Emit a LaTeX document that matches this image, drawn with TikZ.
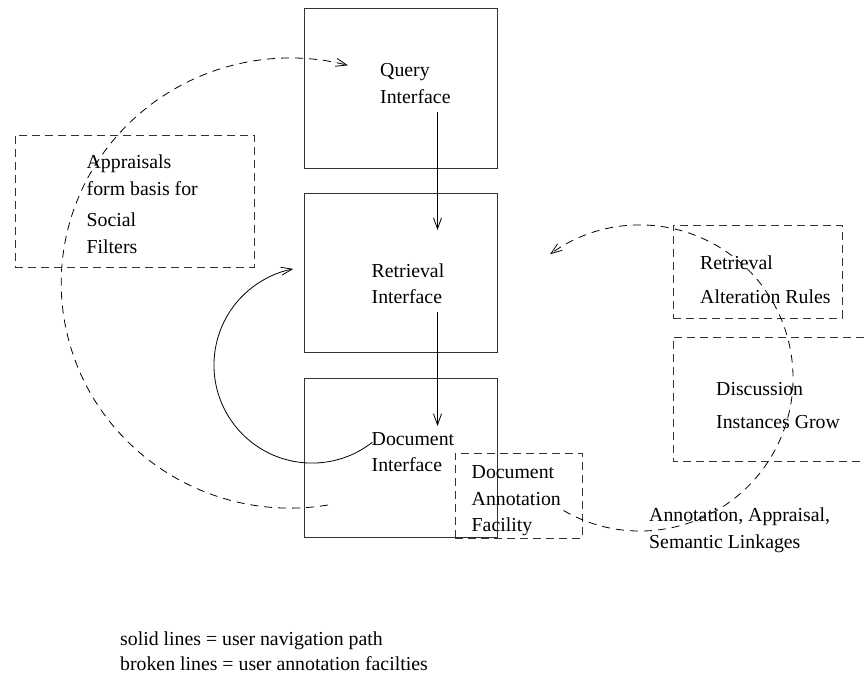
\documentclass[tikz,border=0pt]{standalone}
\usepackage{fontspec}
\setmainfont{Liberation Serif}
\usetikzlibrary{arrows.meta}
\begin{document}
\begin{tikzpicture}[x=1pt,y=-1pt,
  box/.style={draw=black!80,line width=1pt,inner sep=0pt,rectangle},
  dbox/.style={draw=black!80,line width=1pt,dash pattern=on 8pt off 5pt,inner sep=0pt,rectangle},
  lbl/.style={anchor=base west,inner sep=0pt,font=\fontsize{19.8}{25}\selectfont},
  nav/.style={line width=0.8pt,-{Straight Barb[length=11pt,width=8pt]}},
  ann/.style={nav,dash pattern=on 8pt off 6pt}]
\useasboundingbox (0,0) rectangle (864,685);

% solid boxes
\node[box,minimum width=193pt,minimum height=159pt] (query) at (400.5,88.5) {};
\node[box,minimum width=193pt,minimum height=159pt] (retr) at (400.5,272.5) {};
\node[box,minimum width=193pt,minimum height=159pt] (doc) at (400.5,457.5) {};

% dashed boxes
\node[dbox,minimum width=239pt,minimum height=132pt] (appr) at (134.5,201) {};
\node[dbox,minimum width=169pt,minimum height=93pt] (rar) at (757.5,271.5) {};
\node[dbox,minimum width=127pt,minimum height=85pt] (daf) at (518.5,495.5) {};
\coordinate (disTR) at (864,337);
\coordinate (disTL) at (673,337);
\coordinate (disBL) at (673,461);
\coordinate (disBR) at (864,461);
\draw[draw=black!80,line width=1pt,dash pattern=on 8pt off 5pt] (disTR) -- (disTL) -- (disBL) -- (disBR);

% texts
\node[lbl] (tq1) at (380,77) {Query};
\node[lbl] (tq2) at (380,103) {Interface};
\node[lbl] (tr1) at (371.5,277) {Retrieval};
\node[lbl] (tr2) at (371.5,303) {Interface};
\node[lbl] (td1) at (371.5,445) {Document};
\node[lbl] (td2) at (371.5,471.5) {Interface};
\node[lbl] (ta1) at (471.5,478) {Document};
\node[lbl] (ta2) at (471.5,505) {Annotation};
\node[lbl] (ta3) at (471.5,531.5) {Facility};
\node[lbl] (tp1) at (86.5,168) {Appraisals};
\node[lbl] (tp2) at (86.5,195) {form basis for};
\node[lbl] (tp3) at (86.5,226.5) {Social};
\node[lbl] (tp4) at (86.5,253) {Filters};
\node[lbl] (tx1) at (700,269) {Retrieval};
\node[lbl] (tx2) at (700,303) {Alteration Rules};
\node[lbl] (tg1) at (716,395) {Discussion};
\node[lbl] (tg2) at (716,428) {Instances Grow};
\node[lbl] (tl1) at (649,521.5) {Annotation, Appraisal,};
\node[lbl] (tl2) at (649,548) {Semantic Linkages};
\node[lbl] (lg1) at (120,645) {solid lines = user navigation path};
\node[lbl] (lg2) at (120,670.5) {broken lines = user annotation facilties};

% solid navigation arrows
\coordinate (q1) at (437.5,112);
\coordinate (r1) at (437.5,230);
\draw[nav] (q1) -- (r1);
\coordinate (r2) at (437.5,312);
\coordinate (d2) at (437.5,426);
\draw[nav] (r2) -- (d2);
\coordinate (ds) at (372.3,442.3);
\draw[nav] (ds) arc[start angle=52,end angle=259,radius=98];

% dashed annotation arrows
\coordinate (ls) at (328,505);
\draw[ann] (ls) arc[start angle=80.5,end angle=284.6,x radius=229,y radius=225];
\coordinate (rs) at (563.5,510.5);
\draw[ann] (rs) arc[start angle=120,end angle=-126,radius=153];
\end{tikzpicture}
\end{document}
